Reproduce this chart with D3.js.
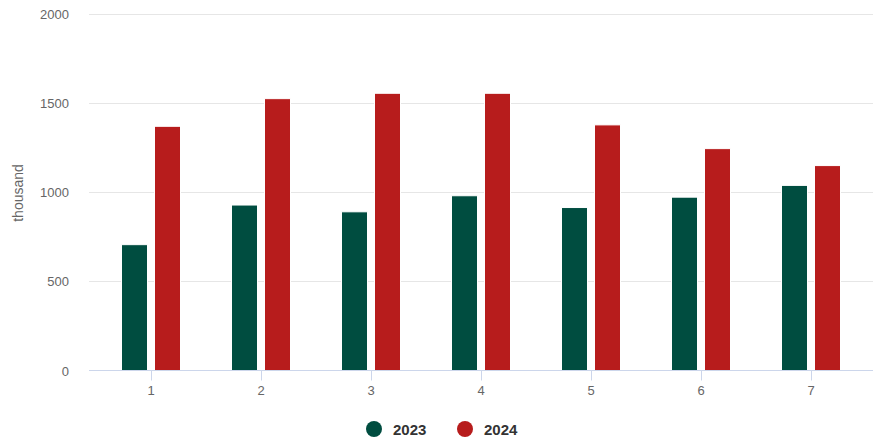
<!DOCTYPE html>
<html><head><meta charset="utf-8">
<script src="https://cdn.jsdelivr.net/npm/d3@7"></script>
<style>body{margin:0;background:#fff;} svg{display:block;font-family:"Liberation Sans",Arial,sans-serif;}</style>
</head><body>
<svg id="c" width="884" height="447"></svg>
<script>
const categories = ["1","2","3","4","5","6","7"];
const seriesNames = ["2023","2024"];
const values2023 = [705, 927, 889, 979, 913, 971, 1037];
const values2024 = [1368, 1523, 1553, 1553, 1376, 1243, 1148];
const yTicks = [0, 500, 1000, 1500, 2000];
const colors = ["#004d40", "#b71c1c"];
const yTitle = "thousand";

const svg = d3.select("#c");
const plotL = 89, plotR = 873, plotT = 13.5, plotB = 370.5;
const y = d3.scaleLinear().domain([0, 2000]).range([plotB, plotT]);
const x0 = d3.scaleBand().domain(categories).range([96, 866]).padding(0);
const x1 = d3.scaleBand().domain(seriesNames).range([0, 59]).paddingInner(0.212);
const groupOff = (x0.bandwidth() - 59) / 2;

// gridlines
svg.append("g").selectAll("line").data(yTicks.filter(d => d > 0)).join("line")
  .attr("x1", plotL).attr("x2", plotR)
  .attr("y1", d => Math.round(y(d)) + 0.5).attr("y2", d => Math.round(y(d)) + 0.5)
  .attr("stroke", "#e6e6e6").attr("stroke-width", 1);

// y labels
svg.append("g").selectAll("text").data(yTicks).join("text")
  .attr("x", 69).attr("y", d => y(d) + 5)
  .attr("text-anchor", "end").attr("fill", "#666").attr("font-size", 13)
  .text(d => d);

// y title
svg.append("text").attr("transform", "translate(23,193) rotate(-90)")
  .attr("text-anchor", "middle").attr("fill", "#666").attr("font-size", 14).text(yTitle);

// bars
const data = categories.map((c, i) => ({c, vals: [values2023[i], values2024[i]]}));
const groups = svg.append("g").selectAll("g").data(data).join("g")
  .attr("transform", d => `translate(${x0(d.c) + groupOff},0)`);
groups.selectAll("rect").data(d => d.vals.map((v, j) => ({s: seriesNames[j], v, j}))).join("rect")
  .attr("x", d => x1(d.s)).attr("width", x1.bandwidth())
  .attr("y", d => y(d.v)).attr("height", d => plotB - y(d.v))
  .attr("fill", d => colors[d.j]).attr("stroke", "#fff").attr("stroke-width", 1);

// x axis
svg.append("line").attr("x1", plotL).attr("x2", plotR).attr("y1", 370.5).attr("y2", 370.5)
  .attr("stroke", "#ccd6eb").attr("stroke-width", 1);
svg.append("g").selectAll("line").data(categories).join("line")
  .attr("x1", d => Math.round(x0(d) + x0.bandwidth() / 2) + 0.5)
  .attr("x2", d => Math.round(x0(d) + x0.bandwidth() / 2) + 0.5)
  .attr("y1", 370.5).attr("y2", 380.5).attr("stroke", "#ccd6eb");
svg.append("g").selectAll("text").data(categories).join("text")
  .attr("x", d => x0(d) + x0.bandwidth() / 2).attr("y", 395)
  .attr("text-anchor", "middle").attr("fill", "#666").attr("font-size", 13).text(d => d);

// legend
const legX = [374, 465];
const leg = svg.append("g").selectAll("g").data(seriesNames).join("g")
  .attr("transform", (d, i) => `translate(${legX[i]},429)`);
leg.append("circle").attr("r", 8).attr("fill", (d, i) => colors[i]);
leg.append("text").attr("x", 19).attr("y", 5.5).attr("fill", "#333").attr("font-size", 15)
  .attr("font-weight", "bold").text(d => d);
</script>
</body></html>
